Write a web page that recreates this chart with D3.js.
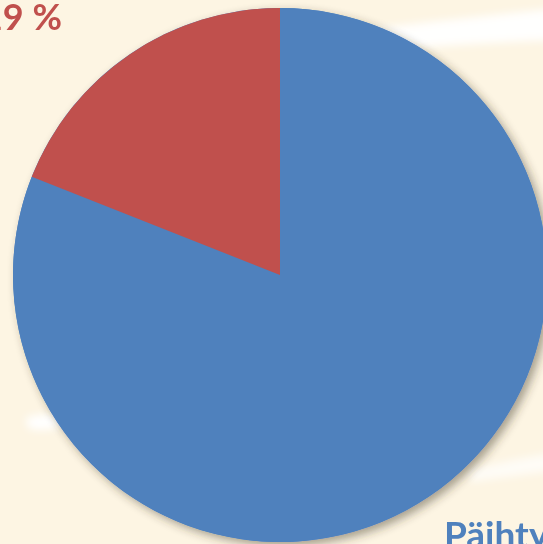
<!DOCTYPE html>
<html>
<head>
<meta charset="utf-8">
<title>Pie</title>
<script src="https://cdn.jsdelivr.net/npm/d3@7"></script>
<style>
  html, body { margin: 0; padding: 0; overflow: hidden; background: #fdf5e3; }
  svg { display: block; }
</style>
</head>
<body>
<svg id="chart"></svg>
<script>
// data
const categories = ["Päihtyneet", "Muut"];
const values = [81, 19];
const colors = ["#4f81bd", "#c0504d"];
const labels = ["Päihtyneet", "19 %"];

const W = 543, H = 544;
const cx = 280, cy = 275, r = 267;

const svg = d3.select("#chart").attr("width", W).attr("height", H);

const defs = svg.append("defs");
const shadow = defs.append("filter").attr("id", "shadow")
    .attr("x", "-20%").attr("y", "-20%").attr("width", "140%").attr("height", "140%");
shadow.append("feDropShadow")
    .attr("dx", 4).attr("dy", 4).attr("stdDeviation", 5)
    .attr("flood-color", "#3a3020").attr("flood-opacity", 0.45);
const blur = defs.append("filter").attr("id", "blur");
blur.append("feGaussianBlur").attr("stdDeviation", 4);

// background swooshes
svg.append("rect").attr("width", W).attr("height", H).attr("fill", "#fdf5e3");
const deco = svg.append("g").attr("filter", "url(#blur)").attr("fill", "#ffffff");
deco.append("path").attr("d", "M360,30 C430,22 500,14 560,8 L560,40 C500,42 440,46 390,50 Z").attr("opacity", 0.95);
deco.append("path").attr("d", "M26,418 C40,412 60,414 70,420 C60,430 40,432 28,428 Z");
deco.append("path").attr("d", "M470,470 C500,462 530,456 560,452 L560,470 C530,474 500,478 470,482 Z").attr("opacity", 0.7);

// pie
const pie = d3.pie().sort(null).value(d => d);
const arc = d3.arc().innerRadius(0).outerRadius(r);

const g = svg.append("g").attr("transform", `translate(${cx},${cy})`);
g.append("circle").attr("r", r).attr("fill", "#4f81bd").attr("filter", "url(#shadow)");
g.selectAll("path.slice")
    .data(pie(values))
    .enter()
    .append("path")
    .attr("class", "slice")
    .attr("d", arc)
    .attr("fill", (d, i) => colors[i]);

// labels
svg.append("text")
    .attr("x", 62).attr("y", 30)
    .attr("text-anchor", "end")
    .attr("font-family", "Lato, 'Open Sans', sans-serif")
    .attr("font-weight", "bold")
    .attr("font-size", 36)
    .attr("fill", colors[1])
    .text(labels[1]);

svg.append("text")
    .attr("x", 444).attr("y", 548)
    .attr("text-anchor", "start")
    .attr("font-family", "Lato, 'Open Sans', sans-serif")
    .attr("font-weight", "bold")
    .attr("font-size", 37)
    .attr("fill", colors[0])
    .text(labels[0]);
</script>
</body>
</html>
